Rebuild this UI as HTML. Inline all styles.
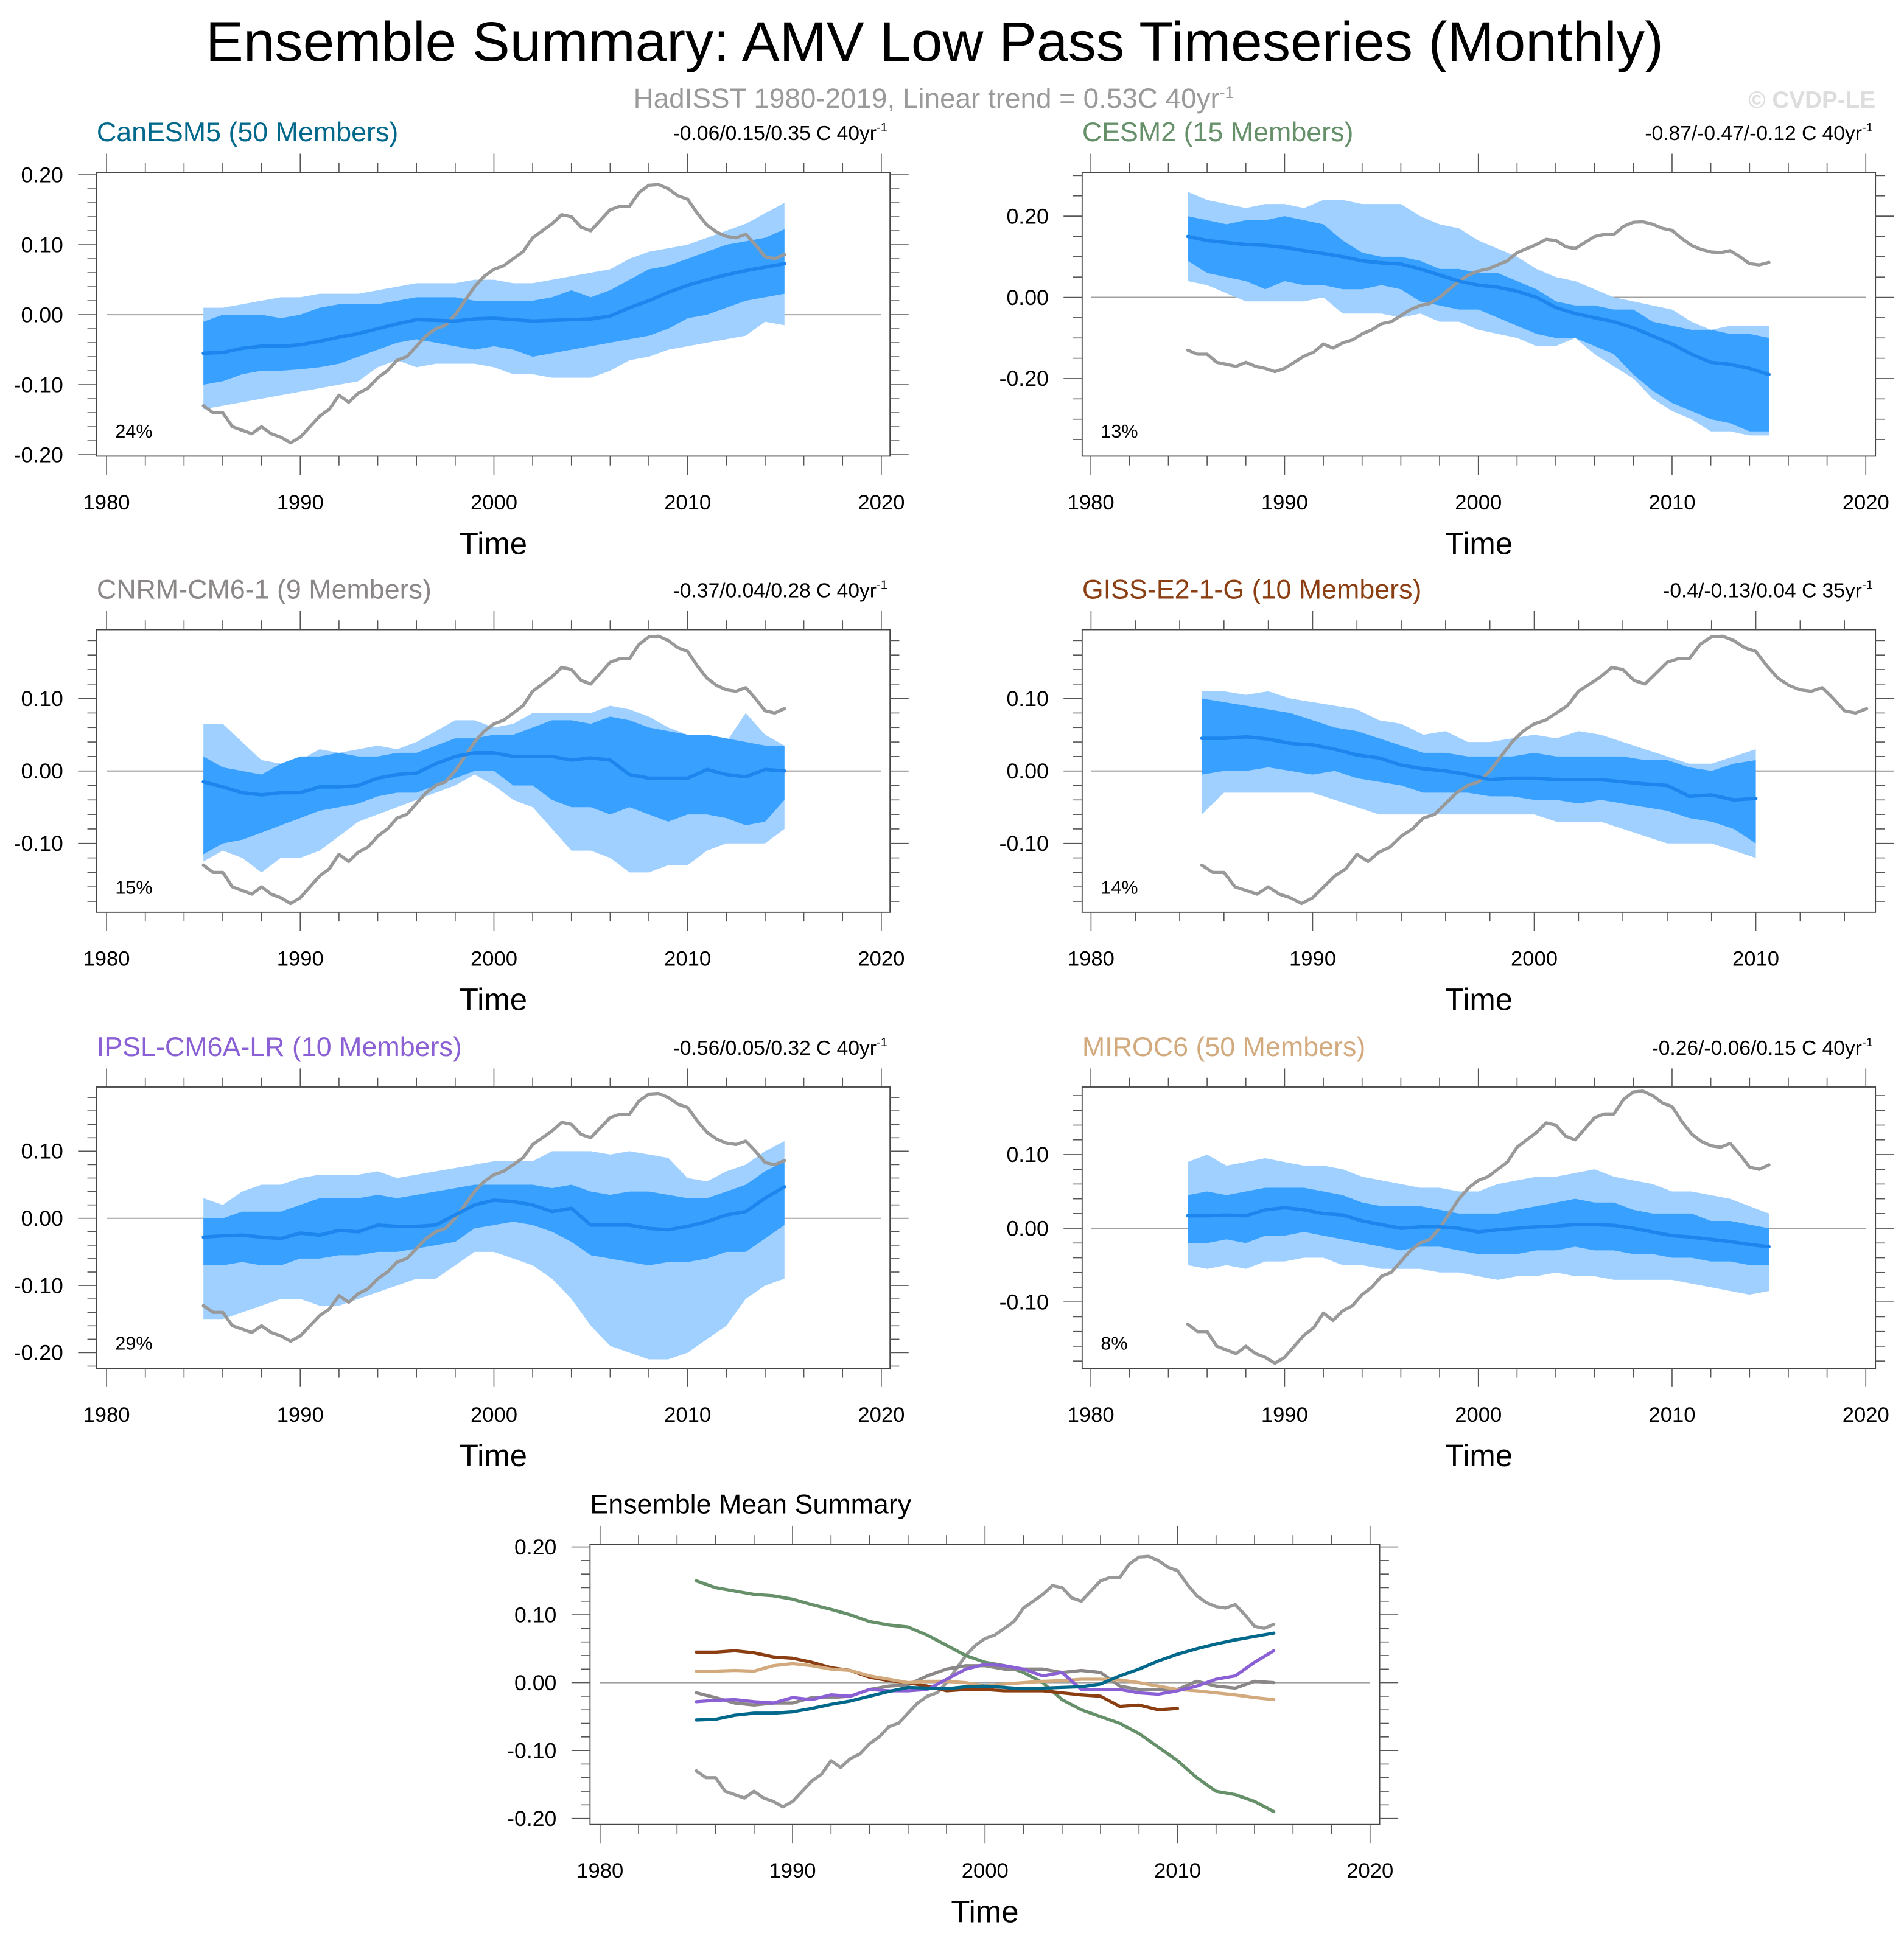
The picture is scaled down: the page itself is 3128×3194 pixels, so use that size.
<!DOCTYPE html>
<html><head><meta charset="utf-8"><title>Ensemble Summary: AMV Low Pass Timeseries</title>
<style>html,body{margin:0;padding:0;background:#fff;}svg{display:block;font-family:"Liberation Sans",Arial,sans-serif;}</style>
</head><body>
<svg id="fig" xmlns="http://www.w3.org/2000/svg" width="3128" height="3194" viewBox="0 0 1536 1568.4" preserveAspectRatio="none">
<rect width="1536" height="1568.4" fill="#fff"/>
<text x="754" y="49" text-anchor="middle" font-size="45" textLength="1176" lengthAdjust="spacingAndGlyphs">Ensemble Summary: AMV Low Pass Timeseries (Monthly)</text>
<text x="511" y="87" font-size="22.5" fill="#9a9a9a">HadISST 1980-2019, Linear trend = 0.53C 40yr<tspan dy="-8" font-size="13">-1</tspan></text>
<text x="1513" y="87" text-anchor="end" font-size="19" font-weight="bold" fill="#dddddd">© CVDP-LE</text>
</svg>
<script>
const years = [1985,1986,1987,1988,1989,1990,1991,1992,1993,1994,1995,1996,1997,1998,1999,2000,2001,2002,2003,2004,2005,2006,2007,2008,2009,2010,2011,2012,2013,2014,2015];
const gissYears = [1985,1986,1987,1988,1989,1990,1991,1992,1993,1994,1995,1996,1997,1998,1999,2000,2001,2002,2003,2004,2005,2006,2007,2008,2009,2010];
const obsStart = 1985;
const obsStep = 0.5;
const obsValues = [-0.13,-0.14,-0.14,-0.16,-0.165,-0.17,-0.16,-0.17,-0.175,-0.183,-0.175,-0.16,-0.145,-0.135,-0.115,-0.125,-0.112,-0.105,-0.09,-0.08,-0.065,-0.06,-0.045,-0.03,-0.02,-0.015,0.0,0.02,0.04,0.055,0.065,0.07,0.08,0.09,0.11,0.12,0.13,0.143,0.14,0.125,0.12,0.135,0.15,0.155,0.155,0.175,0.185,0.186,0.18,0.17,0.165,0.145,0.128,0.118,0.112,0.11,0.115,0.1,0.083,0.08,0.086];

const canMean = [-0.055,-0.054,-0.048,-0.045,-0.045,-0.043,-0.038,-0.032,-0.027,-0.02,-0.013,-0.007,-0.008,-0.009,-0.006,-0.005,-0.007,-0.009,-0.008,-0.007,-0.006,-0.002,0.01,0.02,0.032,0.042,0.05,0.057,0.063,0.068,0.073];
const canInHi = [-0.01,0.0,0.0,0.0,-0.005,0.0,0.01,0.015,0.015,0.015,0.02,0.025,0.025,0.025,0.02,0.02,0.02,0.02,0.025,0.035,0.025,0.035,0.05,0.065,0.07,0.08,0.09,0.1,0.105,0.11,0.122];
const canInLo = [-0.1,-0.095,-0.085,-0.08,-0.08,-0.078,-0.075,-0.07,-0.06,-0.05,-0.04,-0.035,-0.04,-0.045,-0.05,-0.045,-0.05,-0.06,-0.055,-0.05,-0.045,-0.04,-0.035,-0.03,-0.02,-0.005,0.0,0.01,0.02,0.025,0.03];
const canOutHi = [0.01,0.01,0.015,0.02,0.025,0.025,0.03,0.03,0.03,0.035,0.04,0.045,0.045,0.045,0.05,0.05,0.045,0.045,0.05,0.055,0.06,0.065,0.08,0.09,0.095,0.1,0.11,0.12,0.13,0.145,0.16];
const canOutLo = [-0.135,-0.13,-0.125,-0.12,-0.115,-0.11,-0.105,-0.1,-0.095,-0.075,-0.065,-0.075,-0.07,-0.07,-0.07,-0.075,-0.085,-0.085,-0.09,-0.09,-0.09,-0.08,-0.065,-0.06,-0.05,-0.045,-0.04,-0.035,-0.03,-0.01,-0.015];

const cesMean = [0.15,0.14,0.135,0.13,0.128,0.123,0.115,0.108,0.1,0.09,0.085,0.082,0.07,0.055,0.04,0.03,0.025,0.015,0.0,-0.025,-0.04,-0.05,-0.06,-0.075,-0.095,-0.115,-0.14,-0.16,-0.165,-0.175,-0.19];
const cesInHi = [0.2,0.19,0.18,0.19,0.19,0.2,0.19,0.18,0.14,0.11,0.1,0.1,0.09,0.07,0.07,0.06,0.06,0.04,0.02,-0.01,-0.02,-0.02,-0.03,-0.03,-0.06,-0.07,-0.08,-0.08,-0.09,-0.09,-0.1];
const cesInLo = [0.09,0.06,0.05,0.04,0.02,0.04,0.03,0.03,0.02,0.02,0.03,0.02,-0.01,-0.02,-0.03,-0.03,-0.05,-0.07,-0.09,-0.1,-0.1,-0.12,-0.14,-0.19,-0.23,-0.26,-0.28,-0.3,-0.31,-0.33,-0.33];
const cesOutHi = [0.26,0.24,0.23,0.22,0.23,0.23,0.22,0.24,0.24,0.23,0.23,0.23,0.2,0.18,0.17,0.14,0.12,0.1,0.07,0.05,0.04,0.02,0.0,-0.01,-0.02,-0.03,-0.06,-0.08,-0.07,-0.07,-0.07];
const cesOutLo = [0.04,0.03,0.01,-0.01,-0.01,-0.01,-0.01,0.0,-0.04,-0.04,-0.04,-0.05,-0.04,-0.06,-0.06,-0.08,-0.09,-0.1,-0.12,-0.12,-0.1,-0.14,-0.17,-0.2,-0.25,-0.28,-0.3,-0.33,-0.33,-0.34,-0.34];

const cnrmMean = [-0.015,-0.022,-0.03,-0.033,-0.03,-0.03,-0.022,-0.022,-0.02,-0.01,-0.005,-0.003,0.01,0.02,0.025,0.025,0.02,0.02,0.02,0.015,0.018,0.015,-0.005,-0.01,-0.01,-0.01,0.002,-0.005,-0.008,0.002,0.0];
const cnrmInHi = [0.02,0.005,0.0,-0.005,0.01,0.02,0.02,0.025,0.02,0.02,0.025,0.025,0.035,0.045,0.045,0.05,0.05,0.06,0.07,0.07,0.065,0.075,0.07,0.06,0.055,0.05,0.05,0.045,0.04,0.035,0.035];
const cnrmInLo = [-0.115,-0.1,-0.095,-0.085,-0.075,-0.065,-0.055,-0.05,-0.045,-0.035,-0.03,-0.03,-0.02,-0.01,0.0,0.0,-0.02,-0.02,-0.04,-0.05,-0.05,-0.06,-0.05,-0.06,-0.07,-0.06,-0.06,-0.065,-0.075,-0.07,-0.04];
const cnrmOutHi = [0.065,0.065,0.04,0.015,0.01,0.015,0.03,0.025,0.03,0.035,0.03,0.04,0.055,0.07,0.07,0.06,0.065,0.08,0.08,0.08,0.08,0.09,0.085,0.075,0.06,0.05,0.05,0.04,0.08,0.05,0.035];
const cnrmOutLo = [-0.125,-0.11,-0.12,-0.14,-0.12,-0.12,-0.11,-0.09,-0.07,-0.06,-0.05,-0.04,-0.03,-0.02,-0.005,-0.02,-0.04,-0.05,-0.08,-0.11,-0.11,-0.12,-0.14,-0.14,-0.13,-0.13,-0.11,-0.1,-0.1,-0.1,-0.08];

const gissMean = [0.045,0.045,0.047,0.044,0.038,0.036,0.03,0.022,0.018,0.008,0.003,0.0,-0.005,-0.012,-0.01,-0.01,-0.012,-0.012,-0.012,-0.015,-0.018,-0.02,-0.035,-0.033,-0.04,-0.038];
const gissInHi = [0.1,0.095,0.09,0.085,0.08,0.07,0.06,0.055,0.045,0.035,0.025,0.025,0.02,0.02,0.02,0.025,0.02,0.02,0.02,0.02,0.015,0.015,0.005,0.0,0.01,0.015];
const gissInLo = [-0.005,0.0,0.0,0.005,0.0,-0.005,0.0,-0.01,-0.015,-0.02,-0.03,-0.03,-0.03,-0.035,-0.035,-0.04,-0.04,-0.045,-0.04,-0.045,-0.05,-0.055,-0.065,-0.07,-0.08,-0.1];
const gissOutHi = [0.11,0.11,0.105,0.11,0.1,0.095,0.09,0.085,0.07,0.065,0.05,0.055,0.04,0.04,0.045,0.05,0.045,0.055,0.05,0.04,0.03,0.02,0.01,0.01,0.02,0.03];
const gissOutLo = [-0.06,-0.03,-0.03,-0.03,-0.03,-0.03,-0.04,-0.05,-0.06,-0.06,-0.06,-0.06,-0.06,-0.06,-0.06,-0.06,-0.07,-0.07,-0.07,-0.08,-0.09,-0.1,-0.1,-0.1,-0.11,-0.12];

const ipslMean = [-0.028,-0.026,-0.025,-0.028,-0.03,-0.022,-0.025,-0.018,-0.02,-0.01,-0.012,-0.012,-0.01,0.005,0.02,0.027,0.025,0.02,0.01,0.015,-0.01,-0.01,-0.01,-0.015,-0.017,-0.012,-0.005,0.005,0.01,0.03,0.047];
const ipslInHi = [0.0,0.0,0.01,0.01,0.01,0.02,0.03,0.03,0.03,0.035,0.03,0.035,0.04,0.045,0.05,0.05,0.05,0.05,0.045,0.05,0.04,0.035,0.04,0.04,0.035,0.03,0.03,0.04,0.05,0.07,0.085];
const ipslInLo = [-0.07,-0.07,-0.065,-0.07,-0.07,-0.06,-0.06,-0.055,-0.055,-0.05,-0.05,-0.045,-0.04,-0.035,-0.015,-0.01,-0.005,-0.01,-0.02,-0.035,-0.055,-0.06,-0.065,-0.07,-0.065,-0.065,-0.06,-0.05,-0.05,-0.03,-0.01];
const ipslOutHi = [0.03,0.02,0.04,0.05,0.05,0.06,0.065,0.065,0.065,0.07,0.06,0.065,0.07,0.075,0.08,0.085,0.085,0.085,0.1,0.1,0.1,0.095,0.1,0.095,0.09,0.06,0.055,0.07,0.08,0.1,0.115];
const ipslOutLo = [-0.15,-0.15,-0.14,-0.13,-0.12,-0.12,-0.13,-0.13,-0.12,-0.11,-0.1,-0.09,-0.09,-0.07,-0.05,-0.05,-0.06,-0.07,-0.09,-0.12,-0.16,-0.19,-0.2,-0.21,-0.21,-0.2,-0.18,-0.16,-0.12,-0.1,-0.09];

const mirocMean = [0.017,0.017,0.018,0.017,0.025,0.028,0.025,0.02,0.018,0.01,0.005,0.0,0.002,0.002,0.0,-0.005,-0.002,0.0,0.002,0.003,0.005,0.005,0.004,0.0,-0.005,-0.01,-0.012,-0.015,-0.018,-0.022,-0.025];
const mirocInHi = [0.045,0.05,0.045,0.05,0.055,0.055,0.055,0.05,0.045,0.035,0.03,0.03,0.03,0.025,0.02,0.02,0.02,0.025,0.03,0.035,0.04,0.035,0.035,0.025,0.02,0.02,0.02,0.01,0.01,0.005,0.0];
const mirocInLo = [-0.02,-0.02,-0.015,-0.02,-0.01,-0.01,-0.005,-0.01,-0.015,-0.02,-0.025,-0.03,-0.025,-0.025,-0.03,-0.035,-0.035,-0.035,-0.03,-0.03,-0.025,-0.03,-0.03,-0.035,-0.035,-0.04,-0.04,-0.045,-0.045,-0.05,-0.05];
const mirocOutHi = [0.09,0.1,0.085,0.09,0.095,0.09,0.085,0.085,0.08,0.07,0.065,0.06,0.055,0.055,0.05,0.05,0.06,0.065,0.07,0.07,0.075,0.08,0.07,0.065,0.06,0.05,0.05,0.045,0.04,0.03,0.02];
const mirocOutLo = [-0.05,-0.055,-0.05,-0.055,-0.045,-0.045,-0.04,-0.04,-0.05,-0.05,-0.055,-0.055,-0.055,-0.06,-0.06,-0.065,-0.07,-0.065,-0.065,-0.06,-0.065,-0.065,-0.07,-0.07,-0.07,-0.07,-0.075,-0.08,-0.085,-0.09,-0.085];

const xTickYears = [1980,1990,2000,2010,2020];
const ticksA = [-0.2,-0.1,0.0,0.1,0.2];
const ticksB = [-0.2,0.0,0.2];
const ticksC = [-0.1,0.0,0.1];
const ticksD = [-0.2,-0.1,0.0,0.1];

const NS = 'http://www.w3.org/2000/svg';
const svg = document.getElementById('fig');
function mk(tag, attrs, parent){
  const e = document.createElementNS(NS, tag);
  for (const k in attrs) e.setAttribute(k, attrs[k]);
  (parent||svg).appendChild(e);
  return e;
}
function obsX(i){ return obsStart + i*obsStep; }

function panel(c){
  const g = mk('g', {});
  
  
  const sx = v => c.x0 + (v - c.xmin)/(c.xmax - c.xmin)*(c.x1 - c.x0);
  const sy = v => c.y1 - (v - c.ymin)/(c.ymax - c.ymin)*(c.y1 - c.y0);
  const clipId = c.name + '-clip';
  const cp = mk('clipPath', {id: clipId}, g);
  mk('rect', {x:c.x0, y:c.y0, width:c.x1-c.x0, height:c.y1-c.y0}, cp);
  const plot = mk('g', {'clip-path':'url(#'+clipId+')'}, g);
  const zl = mk('line', {x1:sx(1980), x2:sx(2020), y1:sy(0), y2:sy(0), stroke:'#a0a0a0', 'stroke-width':1}, plot);
  
  
  function band(xs, lo, hi, color, nm){
    let d = '';
    xs.forEach((x,i)=>{ d += (i?'L':'M') + sx(x).toFixed(2) + ',' + sy(hi[i]).toFixed(2); });
    for (let i = xs.length-1; i >= 0; i--) d += 'L' + sx(xs[i]).toFixed(2) + ',' + sy(lo[i]).toFixed(2);
    const p = mk('path', {d: d + 'Z', fill: color}, plot);
    
    
  }
  function line(xs, ys, color, w, nm){
    let d = '';
    xs.forEach((x,i)=>{ d += (i?'L':'M') + sx(x).toFixed(2) + ',' + sy(ys[i]).toFixed(2); });
    const p = mk('path', {d: d, fill:'none', stroke: color, 'stroke-width': w, 'stroke-linejoin':'round', 'stroke-linecap':'round'}, plot);
    
    
  }
  if (c.outLo){
    band(c.xs, c.outLo, c.outHi, '#a0d0ff', 'outer-spread-band');
    band(c.xs, c.inLo, c.inHi, '#38a0ff', 'inner-spread-band');
  }
  const oxs = obsValues.map((v,i)=>obsX(i));
  line(oxs, obsValues, '#999999', 2.6, 'hadisst-observed-line');
  if (c.mean) line(c.xs, c.mean, '#1c86ee', 2.8, 'ensemble-mean-line');
  if (c.series) c.series.forEach(s => line(s.xs, s.ys, s.color, 2.6, s.name));
  const fr = mk('rect', {x:c.x0, y:c.y0, width:c.x1-c.x0, height:c.y1-c.y0, fill:'none', stroke:'#444', 'stroke-width':0.9}, g);
  
  
  for (let yr = 1980; yr <= 2020; yr += 2){
    const X = sx(yr);
    if (X < c.x0 - 0.5 || X > c.x1 + 0.5) continue;
    const major = yr % 10 === 0;
    const L = major ? 15 : 7.5;
    mk('line', {x1:X, x2:X, y1:c.y0, y2:c.y0-L, stroke:'#555', 'stroke-width':0.8}, g);
    mk('line', {x1:X, x2:X, y1:c.y1, y2:c.y1+L, stroke:'#555', 'stroke-width':0.8}, g);
  }
  xTickYears.forEach(yr => {
    const X = sx(yr);
    if (X < c.x0 - 0.5 || X > c.x1 + 0.5) return;
    const t = mk('text', {x:X, y:c.y1+43, 'text-anchor':'middle', 'font-size':17}, g);
    t.textContent = yr;
    
    
  });
  const n0 = Math.ceil(c.ymin/c.minor - 1e-6), n1 = Math.floor(c.ymax/c.minor + 1e-6);
  for (let n = n0; n <= n1; n++){
    const v = n*c.minor;
    const Y = sy(v);
    const isMajor = c.yticks.some(t => Math.abs(t - v) < 1e-6);
    const L = isMajor ? 15 : 7.5;
    mk('line', {x1:c.x0, x2:c.x0-L, y1:Y, y2:Y, stroke:'#555', 'stroke-width':0.8}, g);
    mk('line', {x1:c.x1, x2:c.x1+L, y1:Y, y2:Y, stroke:'#555', 'stroke-width':0.8}, g);
  }
  c.yticks.forEach(v => {
    const t = mk('text', {x:c.x0-27, y:sy(v)+6, 'text-anchor':'end', 'font-size':17.5}, g);
    t.textContent = v.toFixed(2);
    
    
  });
  const xt = mk('text', {x:(c.x0+c.x1)/2, y:c.y1+79, 'text-anchor':'middle', 'font-size':25}, g);
  xt.textContent = 'Time';
  
  
  const tt = mk('text', {x:c.x0, y:c.y0-25, 'font-size':22, fill:c.color}, g);
  tt.textContent = c.title;
  
  
  if (c.trend){
    const tr = mk('text', {x:c.x1-2, y:c.y0-26, 'text-anchor':'end', 'font-size':16.5}, g);
    tr.textContent = c.trend;
    const sup = mk('tspan', {dy:-7, 'font-size':10}, tr);
    sup.textContent = '-1';
    
    
  }
  if (c.pct){
    const pt = mk('text', {x:c.x0+15, y:c.y1-15, 'font-size':15}, g);
    pt.textContent = c.pct;
    
    
  }
}

const L = {x0:78, x1:718, xmin:1979.49, xmax:2020.45};
const R = {x0:873, x1:1513, xmin:1979.55, xmax:2020.5};
panel(Object.assign({name:'canesm5-panel', y0:139, y1:368, ymin:-0.202, ymax:0.2035, yticks:ticksA, minor:0.02,
  xs:years, mean:canMean, inLo:canInLo, inHi:canInHi, outLo:canOutLo, outHi:canOutHi,
  title:'CanESM5 (50 Members)', color:'#00688b', trend:'-0.06/0.15/0.35 C 40yr', pct:'24%'}, L));
panel(Object.assign({name:'cesm2-panel', y0:139, y1:368, ymin:-0.391, ymax:0.308, yticks:ticksB, minor:0.05,
  xs:years, mean:cesMean, inLo:cesInLo, inHi:cesInHi, outLo:cesOutLo, outHi:cesOutHi,
  title:'CESM2 (15 Members)', color:'#66906a', trend:'-0.87/-0.47/-0.12 C 40yr', pct:'13%'}, R));
panel(Object.assign({name:'cnrm-cm6-1-panel', y0:508, y1:736, ymin:-0.195, ymax:0.195, yticks:ticksC, minor:0.02,
  xs:years, mean:cnrmMean, inLo:cnrmInLo, inHi:cnrmInHi, outLo:cnrmOutLo, outHi:cnrmOutHi,
  title:'CNRM-CM6-1 (9 Members)', color:'#8b8787', trend:'-0.37/0.04/0.28 C 40yr', pct:'15%'}, L));
panel({name:'giss-e2-1-g-panel', x0:873, x1:1513, xmin:1979.6, xmax:2015.4, y0:508, y1:736, ymin:-0.195, ymax:0.195, yticks:ticksC, minor:0.02,
  xs:gissYears, mean:gissMean, inLo:gissInLo, inHi:gissInHi, outLo:gissOutLo, outHi:gissOutHi,
  title:'GISS-E2-1-G (10 Members)', color:'#8b3e12', trend:'-0.4/-0.13/0.04 C 35yr', pct:'14%'});
panel(Object.assign({name:'ipsl-cm6a-lr-panel', y0:877, y1:1104, ymin:-0.2234, ymax:0.1955, yticks:ticksD, minor:0.02,
  xs:years, mean:ipslMean, inLo:ipslInLo, inHi:ipslInHi, outLo:ipslOutLo, outHi:ipslOutHi,
  title:'IPSL-CM6A-LR (10 Members)', color:'#8a60d4', trend:'-0.56/0.05/0.32 C 40yr', pct:'29%'}, L));
panel(Object.assign({name:'miroc6-panel', y0:877, y1:1104, ymin:-0.19, ymax:0.1916, yticks:ticksC, minor:0.02,
  xs:years, mean:mirocMean, inLo:mirocInLo, inHi:mirocInHi, outLo:mirocOutLo, outHi:mirocOutHi,
  title:'MIROC6 (50 Members)', color:'#d2aa7e', trend:'-0.26/-0.06/0.15 C 40yr', pct:'8%'}, R));
panel({name:'ensemble-mean-summary-panel', x0:476, x1:1113, xmin:1979.48, xmax:2020.5, y0:1246, y1:1472, ymin:-0.209, ymax:0.2037, yticks:ticksA, minor:0.02,
  title:'Ensemble Mean Summary', color:'#000',
  series:[
    {name:'cesm2-mean-line', xs:years, ys:cesMean, color:'#66906a'},
    {name:'cnrm-cm6-1-mean-line', xs:years, ys:cnrmMean, color:'#8b8787'},
    {name:'giss-e2-1-g-mean-line', xs:gissYears, ys:gissMean, color:'#8b3e12'},
    {name:'miroc6-mean-line', xs:years, ys:mirocMean, color:'#d2aa7e'},
    {name:'ipsl-cm6a-lr-mean-line', xs:years, ys:ipslMean, color:'#8a60d4'},
    {name:'canesm5-mean-line', xs:years, ys:canMean, color:'#00688b'}
  ]});
</script>
</body></html>
